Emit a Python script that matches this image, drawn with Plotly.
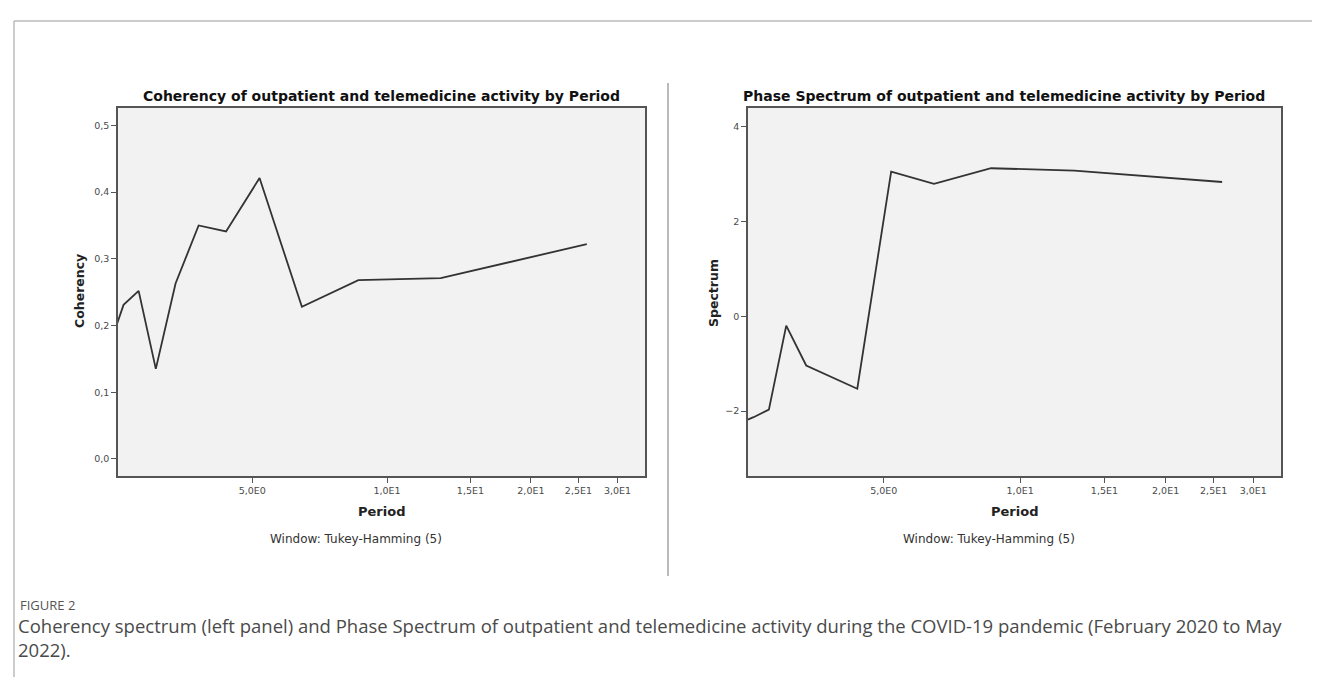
import plotly.graph_objects as go

# ---- data ----
periods = [26/12, 26/11, 26/10, 26/9, 26/8, 26/7, 26/6, 26/5, 26/4, 26/3, 26/2, 26/1]
coherency = [0.172, 0.231, 0.252, 0.135, 0.263, 0.350, 0.341, 0.421, 0.228, 0.268, 0.271, 0.322]
phase = [-2.25, -2.13, -1.97, -0.20, -1.04, -1.27, -1.53, 3.05, 2.79, 3.12, 3.07, 2.83]

x_tick_values = [5, 10, 15, 20, 25, 30]
x_tick_labels = ["5,0E0", "1,0E1", "1,5E1", "2,0E1", "2,5E1", "3,0E1"]
left_y_ticks = [0.0, 0.1, 0.2, 0.3, 0.4, 0.5]
right_y_ticks = [-2, 0, 2, 4]

titles = ["Coherency of outpatient and telemedicine activity by Period",
          "Phase Spectrum of outpatient and telemedicine activity by Period"]
y_titles = ["Coherency", "Spectrum"]
window_note = "Window: Tukey-Hamming (5)"
fig_label = "FIGURE 2"
caption_1 = ("Coherency spectrum (left panel) and Phase Spectrum of outpatient and telemedicine "
             "activity during the COVID-19 pandemic (February 2020 to May")
caption_2 = "2022)."

# The SPSS period axis is logarithmic in (period + 1)
x_plot = [p + 1 for p in periods]
x_tickvals = [v + 1 for v in x_tick_values]

W, H = 1320, 677
def px(x):
    return x / W
def py(y):
    return 1 - y / H

LINE = "#333333"
AX = "#555555"
SPSS = "DejaVu Sans"
TICKFONT = dict(family=SPSS, size=9.5, color="#4a4a4a")

fig = go.Figure()
fig.add_trace(go.Scatter(x=x_plot, y=coherency, mode="lines", xaxis="x", yaxis="y",
                         line=dict(color=LINE, width=1.8), showlegend=False,
                         customdata=periods, hovertemplate="Period %{customdata:.2f}<br>%{y}<extra></extra>"))
fig.add_trace(go.Scatter(x=x_plot, y=phase, mode="lines", xaxis="x2", yaxis="y2",
                         line=dict(color=LINE, width=1.8), showlegend=False,
                         customdata=periods, hovertemplate="Period %{customdata:.2f}<br>%{y}<extra></extra>"))

xcommon = dict(type="log", range=[0.516, 1.545], tickvals=x_tickvals, ticktext=x_tick_labels,
               showgrid=False, zeroline=False, showline=True, linecolor=AX, linewidth=1.6,
               mirror=True, ticks="outside", ticklen=5, tickcolor=AX, tickwidth=1.3,
               tickfont=TICKFONT)
ycommon = dict(showgrid=False, zeroline=False, showline=True, linecolor=AX, linewidth=1.6,
               mirror=True, ticks="outside", ticklen=5, tickcolor=AX, tickwidth=1.3,
               tickfont=TICKFONT)

y0, y1 = py(468), py(100)
fig.update_layout(
    width=W, height=H,
    margin=dict(l=0, r=0, t=0, b=0),
    paper_bgcolor="white",
    plot_bgcolor="#f2f2f2",
    separators=",.",
    xaxis=dict(domain=[px(110), px(637)], anchor="y", **xcommon),
    yaxis=dict(domain=[y0, y1], anchor="x", range=[-0.0255, 0.526], tickvals=left_y_ticks,
               tickformat=".1f", **ycommon),
    xaxis2=dict(domain=[px(740), px(1273)], anchor="y2", **xcommon),
    yaxis2=dict(domain=[y0, y1], anchor="x2", range=[-3.37, 4.39], tickvals=right_y_ticks,
                tickformat="d", **ycommon),
)

ann = []
title_font = dict(family=SPSS, size=14, color="#111111")
ann.append(dict(text="<b>%s</b>" % titles[0], x=px(373), y=py(88), xref="paper", yref="paper",
                showarrow=False, font=title_font, xanchor="center", yanchor="middle"))
ann.append(dict(text="<b>%s</b>" % titles[1], x=px(996), y=py(88), xref="paper", yref="paper",
                showarrow=False, font=title_font, xanchor="center", yanchor="middle"))
axis_title_font = dict(family=SPSS, size=13, color="#222222")
for cx in (373, 1006):
    ann.append(dict(text="<b>Period</b>", x=px(cx), y=py(503), xref="paper", yref="paper",
                    showarrow=False, font=axis_title_font, xanchor="center", yanchor="middle"))
    ann.append(dict(text=window_note, x=px(cx - 25), y=py(531), xref="paper", yref="paper",
                    showarrow=False, font=dict(family=SPSS, size=12, color="#333333"),
                    xanchor="center", yanchor="middle"))
ytitle_font = dict(family=SPSS, size=12.5, color="#222222")
ann.append(dict(text="<b>%s</b>" % y_titles[0], x=px(72), y=py(283), xref="paper", yref="paper",
                showarrow=False, font=ytitle_font, textangle=-90,
                xanchor="center", yanchor="middle"))
ann.append(dict(text="<b>%s</b>" % y_titles[1], x=px(705), y=py(285), xref="paper", yref="paper",
                showarrow=False, font=ytitle_font, textangle=-90,
                xanchor="center", yanchor="middle"))
ann.append(dict(text=fig_label, x=px(10), y=py(597), xref="paper", yref="paper", showarrow=False,
                font=dict(family="Open Sans", size=13, color="#555555"), xanchor="left", yanchor="middle"))
cap_font = dict(family="Open Sans", size=18.5, color="#4a4a4a")
ann.append(dict(text=caption_1, x=px(8), y=py(617), xref="paper", yref="paper", showarrow=False,
                font=cap_font, xanchor="left", yanchor="middle"))
ann.append(dict(text=caption_2, x=px(8), y=py(641), xref="paper", yref="paper", showarrow=False,
                font=cap_font, xanchor="left", yanchor="middle"))
fig.update_layout(annotations=ann)

shapes = [
    dict(type="line", xref="paper", yref="paper", x0=px(6), x1=1, y0=py(13), y1=py(13),
         line=dict(color="#bbbbbb", width=1.5)),
    dict(type="line", xref="paper", yref="paper", x0=px(6), x1=px(6), y0=py(13), y1=0,
         line=dict(color="#bbbbbb", width=1.5)),
    dict(type="line", xref="paper", yref="paper", x0=px(660), x1=px(660), y0=py(75), y1=py(568),
         line=dict(color="#777777", width=1)),
]
fig.update_layout(shapes=shapes)

fig.write_html("out.html")
